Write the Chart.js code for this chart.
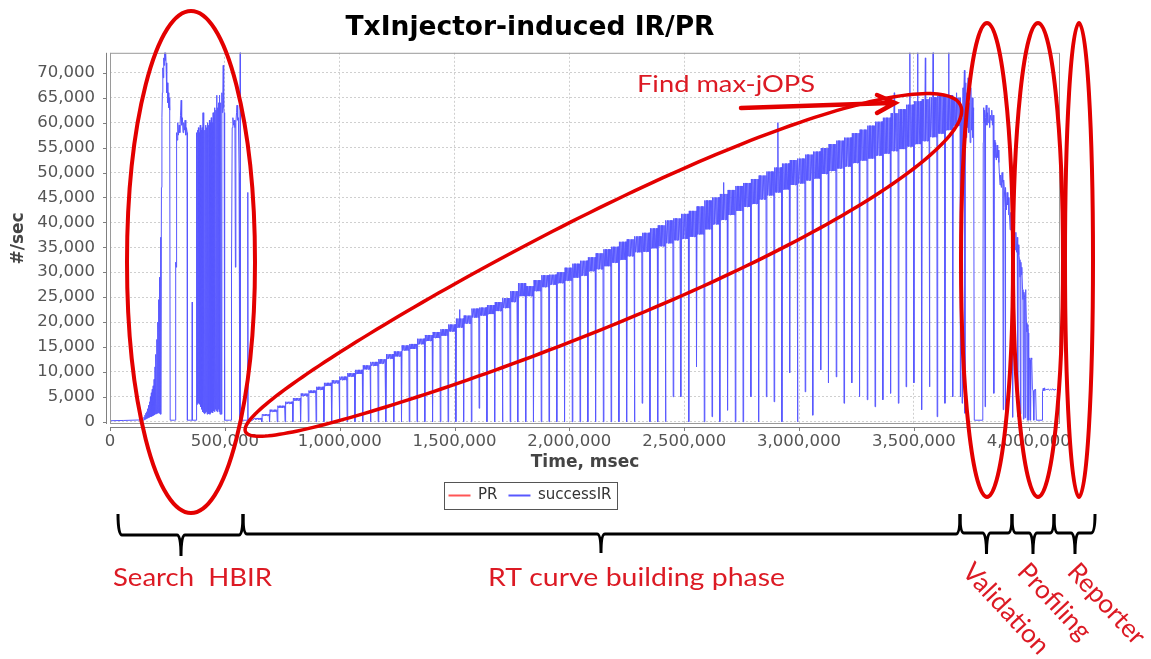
<!DOCTYPE html>
<html>
<head>
<meta charset="utf-8">
<script src="https://cdn.jsdelivr.net/npm/chart.js@4.4.1/dist/chart.umd.min.js"></script>
<style>
  html, body { margin: 0; padding: 0; background: #fff; }
  #wrap { width: 1151px; height: 659px; }
</style>
</head>
<body>
<div id="wrap"><canvas id="myChart" width="1151" height="659"></canvas></div>
<script>
// successIR during the search (HBIR) phase: [time in s, ops/sec]
const searchPts = [
  [0, 200], [60, 250], [130, 350], [146, 300], [148, 900], [150, 400], [152, 1300], [154, 500],
  [156, 1700], [158, 600], [160, 2000], [162, 700], [164, 2600], [166, 800], [168, 3300], [170, 900],
  [172, 4000], [174, 1000], [176, 5000], [178, 1000], [180, 5800], [182, 1100], [184, 6500], [186, 1200],
  [188, 7200], [190, 1300], [192, 8500], [194, 1400], [196, 11000], [198, 1500], [200, 13500], [202, 1600],
  [204, 16500], [206, 1700], [208, 20000], [210, 1800], [212, 24500], [214, 1700], [216, 29000], [218, 1600],
  [220, 37000], [222, 1500], [224, 47000], [226, 61000], [228, 66000], [230, 71000], [232, 69000], [234, 73000],
  [236, 71500], [238, 74500], [240, 72500], [242, 74500], [244, 72000], [246, 70000], [248, 66000], [250, 68000],
  [252, 64000], [254, 66000], [256, 63000], [258, 65000], [260, 62500], [262, 300], [280, 300], [284, 300],
  [286, 32000], [288, 31000], [290, 58000], [292, 56500], [295, 60000], [298, 57500], [301, 59500], [304, 58000],
  [307, 61500], [310, 64500], [312, 59500], [315, 61000], [318, 58000], [321, 60000], [324, 58500], [327, 60500],
  [330, 57500], [333, 59000], [336, 58000], [337, 300], [350, 300], [357, 300], [358, 24000], [359, 300],
  [375, 300], [377, 58000], [379, 3500], [381, 58500], [383, 3800], [385, 59000], [387, 3700], [389, 58000],
  [391, 3500], [393, 59500], [395, 3000], [397, 58500], [399, 2500], [401, 59000], [403, 2000], [405, 62000],
  [407, 1800], [409, 59500], [411, 1600], [413, 58500], [415, 1800], [417, 59500], [419, 2000], [421, 59000],
  [423, 1500], [425, 60000], [427, 1800], [429, 59500], [431, 1600], [433, 60500], [435, 1500], [437, 60000],
  [439, 1800], [441, 61000], [443, 2000], [445, 60000], [447, 1800], [449, 62000], [451, 2200], [453, 61500],
  [455, 2000], [457, 63000], [459, 2500], [461, 62500], [463, 2200], [465, 65500], [467, 2000], [469, 63000],
  [471, 2500], [473, 64000], [475, 2000], [477, 65500], [479, 1500], [481, 63500], [483, 64000], [485, 1500],
  [487, 66000], [489, 62000], [491, 65000], [493, 71500], [495, 63000], [497, 62000], [499, 300], [520, 300],
  [527, 300], [528, 32000], [530, 31000], [532, 59000], [535, 61000], [538, 59500], [541, 60500], [544, 59000],
  [546, 31000], [548, 60000], [551, 62000], [553, 63500], [556, 60500], [559, 61000], [562, 50000], [564, 300],
  [566, 300], [567, 76000], [568, 300], [598, 300], [600, 46000], [601, 300], [622, 300]
];

// RT curve building phase: one entry per load step
const rtStartSec = 628;
const rtStepSec = 33.8;
const rtLevel = [
  600, 1350, 2200, 3000, 3800, 4500, 5400, 6000, 6700, 7500,
  8000, 8700, 9400, 10000, 10900, 11600, 12100, 13100, 13600, 14800,
  15100, 16100, 16800, 17400, 17900, 18800, 19800, 20500, 21800, 22100,
  22500, 23100, 23800, 25100, 26500, 26200, 27300, 28200, 28500, 28900,
  29600, 30300, 30800, 31600, 32200, 32900, 33500, 34300, 34900, 35600,
  36000, 36800, 37300, 38100, 38600, 39200, 39700, 40400, 41500, 42300,
  43100, 44000, 44800, 45500, 46200, 47000, 47800, 48500, 49200, 50000,
  50300, 51000, 51500, 52300, 53000, 53600, 54100, 54900, 55500, 56100,
  56800, 57400, 58100, 58700, 59400, 60000, 60500, 61100, 61600, 62000,
  62200
];
// half height of the noisy band in each step
const rtBand = [
  150, 150, 200, 200, 200, 250, 250, 250, 300, 300,
  300, 350, 350, 400, 400, 400, 450, 450, 500, 500,
  500, 550, 600, 600, 650, 700, 900, 800, 900, 800,
  900, 900, 1000, 1100, 1300, 1000, 1100, 1200, 1000, 1100,
  1300, 1400, 1500, 1400, 1600, 1700, 1600, 1800, 1700, 1600,
  1900, 2000, 2100, 2300, 2200, 2500, 2600, 2800, 2900, 2700,
  2600, 2500, 2500, 2400, 2500, 2400, 2400, 2500, 2600, 2500,
  2500, 2600, 2700, 2600, 2700, 2800, 2900, 3000, 3100, 3300,
  3400, 3600, 3800, 4000, 4200, 4300, 4200, 4000, 3800, 3500,
  2800
];
// lowest value of the drop at the end of each step
const rtDip = [
  0, 0, 0, 0, 0, 0, 0, 0, 0, 0,
  0, 0, 0, 0, 0, 0, 0, 0, 0, 0,
  0, 0, 0, 0, 0, 0, 0, 0, 2700, 0,
  0, 0, 0, 0, 0, 0, 0, 0, 0, 0,
  0, 0, 0, 0, 0, 0, 0, 0, 0, 3700,
  0, 0, 0, 5000, 5000, 0, 11000, 0, 1000, 0,
  2300, 0, 0, 5000, 0, 5000, 4000, 0, 9800, 0,
  6000, 1300, 10400, 7800, 9000, 3700, 7800, 5000, 4400, 3000,
  4400, 5700, 3700, 7000, 7800, 2400, 7000, 1000, 3700, 5000,
  5000
];
// spikes above the band: [step, value]
const rtPeaks = [[26, 22500], [60, 48000], [67, 60000], [82, 66000], [84, 75000],
  [85, 75000], [86, 73000], [87, 75000], [89, 75000], [90, 66000]];

// validation, profiling and reporter phases: [time in s, ops/sec]
const tailPts = [
  [3708, 62000], [3710, 3700], [3712, 61000], [3714, 67000], [3716, 58000], [3718, 65000], [3720, 70500],
  [3722, 1700], [3724, 62000], [3726, 68000], [3728, 57000], [3730, 66000], [3733, 59000], [3736, 69000],
  [3739, 58000], [3742, 64000], [3745, 56000], [3748, 67000], [3751, 58500], [3754, 65000], [3757, 57000],
  [3760, 63000], [3763, 300], [3800, 300], [3802, 56000], [3804, 63000], [3806, 60000], [3808, 62500],
  [3810, 3000], [3812, 61000], [3815, 63500], [3818, 59500], [3821, 62000], [3824, 60000], [3827, 63000],
  [3830, 59000], [3833, 61500], [3836, 60500], [3839, 62500], [3842, 59500], [3845, 61500], [3848, 5700],
  [3850, 56500], [3853, 53000], [3856, 56000], [3859, 52500], [3862, 55500], [3865, 53000], [3868, 54500],
  [3870, 52000], [3872, 50000], [3875, 47500], [3878, 49500], [3881, 47000], [3884, 50000], [3887, 48000],
  [3889, 2400], [3891, 48500], [3894, 46500], [3897, 43000], [3898, 1500], [3900, 47000], [3903, 42500],
  [3906, 46000], [3909, 43500], [3912, 45000], [3914, 41500], [3916, 41500], [3919, 38500], [3922, 42000],
  [3925, 38000], [3928, 41000], [3930, 900], [3932, 39500], [3935, 37500], [3938, 37500], [3941, 34500],
  [3944, 38000], [3947, 34000], [3950, 37000], [3952, 1000], [3954, 35500], [3957, 33500], [3960, 32500],
  [3962, 29000], [3964, 1500], [3966, 32000], [3968, 29500], [3970, 31000], [3973, 26500], [3975, 24500],
  [3977, 500], [3979, 26000], [3982, 25000], [3984, 800], [3986, 26500], [3988, 24500], [3990, 19800],
  [3992, 18000], [3994, 300], [3996, 19500], [3998, 17800], [4000, 300], [4003, 12800], [4006, 12400],
  [4008, 300], [4010, 12800], [4013, 12500], [4016, 6500], [4019, 6200], [4022, 300], [4024, 6400],
  [4027, 6300], [4030, 6500], [4033, 300], [4058, 300], [4060, 6000], [4063, 6700], [4066, 6200],
  [4069, 6800], [4072, 6300], [4076, 6500], [4080, 6400], [4085, 6600], [4090, 6300], [4095, 6500],
  [4100, 6400], [4105, 6600], [4110, 6300], [4115, 6500], [4120, 6400]
];

const xTicks = [0, 500000, 1000000, 1500000, 2000000, 2500000, 3000000, 3500000, 4000000];
const yTicks = [0, 5000, 10000, 15000, 20000, 25000, 30000, 35000, 40000, 45000, 50000, 55000, 60000, 65000, 70000];

// build the point list (x in msec); each step is drawn as a band between level-band and level+band
const irPoints = [];
searchPts.forEach(([s, v]) => irPoints.push({ x: s * 1000, y: v }));
const peakAt = new Map(rtPeaks);
const bandPos = [0.04, 0.13, 0.22, 0.31, 0.40, 0.49, 0.58, 0.67, 0.76, 0.85, 0.92];
rtLevel.forEach((lvl, i) => {
  const t0 = rtStartSec + i * rtStepSec;
  bandPos.forEach((f, j) => {
    irPoints.push({ x: (t0 + f * rtStepSec) * 1000, y: lvl + (j % 2 ? -rtBand[i] : rtBand[i]) });
    if (j === 4 && peakAt.has(i)) {
      irPoints.push({ x: (t0 + 0.45 * rtStepSec) * 1000, y: peakAt.get(i) });
    }
  });
  irPoints.push({ x: (t0 + 0.97 * rtStepSec) * 1000, y: rtDip[i] });
});
tailPts.forEach(([s, v]) => irPoints.push({ x: s * 1000, y: v }));

const RED = "#e30000";
const TEXT_RED = "#dc1a24";

function fitText(ctx, text, x, y, width, size) {
  ctx.font = size + "px Lato";
  const w = ctx.measureText(text).width;
  ctx.save();
  ctx.translate(x, y);
  ctx.scale(width / w, 1);
  ctx.fillText(text, 0, 0);
  ctx.restore();
}

function brace(ctx, x1, x2, xm, yTop, yMid, yBot) {
  const r = 4;
  ctx.beginPath();
  ctx.moveTo(x1, yTop);
  ctx.quadraticCurveTo(x1, yMid, x1 + r, yMid);
  ctx.lineTo(xm - r, yMid);
  ctx.quadraticCurveTo(xm, yMid, xm, yBot);
  ctx.quadraticCurveTo(xm, yMid, xm + r, yMid);
  ctx.lineTo(x2 - r, yMid);
  ctx.quadraticCurveTo(x2, yMid, x2, yTop);
  ctx.stroke();
}

const framePlugin = {
  id: "frame",
  afterDatasetsDraw(chart) {
    const { ctx, chartArea: a, scales: { x, y } } = chart;
    ctx.save();
    ctx.lineWidth = 1;
    ctx.strokeStyle = "#9a9a9a";
    ctx.strokeRect(a.left + 0.5, a.top + 0.5, a.width - 1, a.height - 1);
    ctx.strokeStyle = "#808080";
    ctx.beginPath();
    ctx.moveTo(a.left - 3.5, a.top);
    ctx.lineTo(a.left - 3.5, a.bottom);
    ctx.moveTo(a.left, a.bottom + 3.5);
    ctx.lineTo(a.right, a.bottom + 3.5);
    x.ticks.forEach(t => {
      const px = Math.round(x.getPixelForValue(t.value)) + 0.5;
      ctx.moveTo(px, a.bottom + 3.5);
      ctx.lineTo(px, a.bottom + 7);
    });
    y.ticks.forEach(t => {
      const py = Math.round(y.getPixelForValue(t.value)) + 0.5;
      ctx.moveTo(a.left - 3.5, py);
      ctx.lineTo(a.left - 7, py);
    });
    ctx.stroke();
    ctx.restore();
  },
  afterDraw(chart) {
    const ctx = chart.ctx;
    const hb = chart.legend.legendHitBoxes;
    if (hb && hb.length) {
      const l = Math.min(...hb.map(b => b.left)) - 5;
      const r = Math.max(...hb.map(b => b.left + b.width)) + 5;
      const t = hb[0].top - 6;
      ctx.save();
      ctx.strokeStyle = "#555";
      ctx.lineWidth = 1;
      ctx.strokeRect(Math.round(l) + 0.5, Math.round(t) + 0.5, Math.round(r - l), Math.round(hb[0].height + 12));
      ctx.restore();
    }
  }
};

const notesPlugin = {
  id: "notes",
  afterDraw(chart) {
    const ctx = chart.ctx;
    ctx.save();
    ctx.strokeStyle = RED;
    ctx.lineWidth = 4;
    // search phase ellipse
    ctx.beginPath();
    ctx.ellipse(191, 262, 64, 251, 0, 0, 2 * Math.PI);
    ctx.stroke();
    // RT curve ellipse (slightly egg shaped)
    const cx = 603, cy = 268.5, a = 393, rot = Math.atan2(-327, 716);
    ctx.lineWidth = 3.5;
    ctx.beginPath();
    for (let k = 0; k <= 240; k++) {
      const t = k / 240 * 2 * Math.PI;
      const u = a * Math.cos(t);
      const v = (56 + 14 * u / a) * Math.sin(t);
      const px = cx + u * Math.cos(rot) - v * Math.sin(rot);
      const py = cy + u * Math.sin(rot) + v * Math.cos(rot);
      if (k === 0) ctx.moveTo(px, py); else ctx.lineTo(px, py);
    }
    ctx.closePath();
    ctx.stroke();
    // validation / profiling / reporter ellipses
    ctx.lineWidth = 4;
    [[987, 26], [1038, 25], [1079, 14]].forEach(([ex, rx]) => {
      ctx.beginPath();
      ctx.ellipse(ex, 260, rx, 237, 0, 0, 2 * Math.PI);
      ctx.stroke();
    });
    // arrow to max-jOPS
    ctx.lineWidth = 4.5;
    ctx.lineCap = "round";
    ctx.beginPath();
    ctx.moveTo(741, 108);
    ctx.lineTo(890, 103);
    ctx.moveTo(877, 95);
    ctx.lineTo(895, 103);
    ctx.lineTo(877, 113);
    ctx.stroke();
    // braces
    ctx.strokeStyle = "#000";
    ctx.lineWidth = 3;
    ctx.lineCap = "butt";
    brace(ctx, 118, 243, 181, 514, 535, 556);
    brace(ctx, 243, 960, 601, 514, 534, 553);
    brace(ctx, 960, 1012, 986.5, 514, 533, 554);
    brace(ctx, 1012, 1054, 1033, 514, 533, 554);
    brace(ctx, 1054, 1095, 1075, 514, 533, 554);
    // labels
    ctx.fillStyle = TEXT_RED;
    ctx.textBaseline = "alphabetic";
    fitText(ctx, "Find max-jOPS", 637, 92, 178, 23);
    fitText(ctx, "Search  HBIR", 113, 586, 159, 25);
    fitText(ctx, "RT curve building phase", 488, 586, 297, 25);
    ctx.font = "26px Lato";
    [["Validation", 961], ["Profiling", 1016], ["Reporter", 1066]].forEach(([txt, tx]) => {
      ctx.save();
      ctx.translate(tx, 573);
      ctx.rotate(47 * Math.PI / 180);
      ctx.fillText(txt, 0, 0);
      ctx.restore();
    });
    ctx.restore();
  }
};

Chart.defaults.font.family = "'DejaVu Sans', sans-serif";

new Chart("myChart", {
  type: "line",
  data: {
    datasets: [
      {
        label: "PR",
        data: [],
        borderColor: "rgb(255,85,85)",
        backgroundColor: "rgb(255,85,85)",
        borderWidth: 2,
        pointRadius: 0
      },
      {
        label: "successIR",
        data: irPoints,
        borderColor: "rgb(88,88,255)",
        backgroundColor: "rgb(88,88,255)",
        borderWidth: 1,
        pointRadius: 0,
        tension: 0
      }
    ]
  },
  options: {
    responsive: false,
    animation: false,
    parsing: false,
    events: [],
    layout: { padding: { left: 0, right: 91, top: 0, bottom: 146 } },
    plugins: {
      title: {
        display: true,
        text: "TxInjector-induced IR/PR",
        color: "#000",
        font: { size: 26.5, weight: "bold" },
        padding: { top: 12, bottom: 9 }
      },
      legend: {
        position: "bottom",
        labels: {
          usePointStyle: true,
          pointStyle: "line",
          pointStyleWidth: 22,
          padding: 11,
          color: "#333",
          font: { size: 15 },
          generateLabels(chart) {
            const items = Chart.defaults.plugins.legend.labels.generateLabels(chart);
            items.forEach(it => { it.lineWidth = 2; });
            return items;
          }
        }
      },
      tooltip: { enabled: false }
    },
    scales: {
      x: {
        type: "linear",
        min: 0,
        max: 4136200,
        afterBuildTicks: s => { s.ticks = xTicks.map(v => ({ value: v })); },
        afterFit: s => { s.height = 53; },
        ticks: {
          autoSkip: false,
          maxRotation: 0,
          padding: 8,
          color: "#555",
          font: { size: 16.5 },
          callback: v => v.toLocaleString("en-US")
        },
        grid: { color: "#cfcfcf", lineWidth: 1, drawTicks: false },
        border: { display: false, dash: [2, 2] },
        title: {
          display: true,
          text: "Time, msec",
          color: "#444",
          font: { size: 17, weight: "bold" },
          padding: { top: 0, bottom: 4 }
        }
      },
      y: {
        min: -460,
        max: 74020,
        afterBuildTicks: s => { s.ticks = yTicks.map(v => ({ value: v })); },
        afterFit: s => { s.width = 110; },
        ticks: {
          padding: 15,
          color: "#555",
          font: { size: 16.5 },
          callback: v => v.toLocaleString("en-US")
        },
        grid: { color: "#cfcfcf", lineWidth: 1, drawTicks: false },
        border: { display: false, dash: [2, 2] },
        title: {
          display: true,
          text: "#/sec",
          color: "#444",
          font: { size: 17, weight: "bold" },
          padding: { top: 8, bottom: 0 }
        }
      }
    }
  },
  plugins: [framePlugin, notesPlugin]
});
</script>
</body>
</html>
